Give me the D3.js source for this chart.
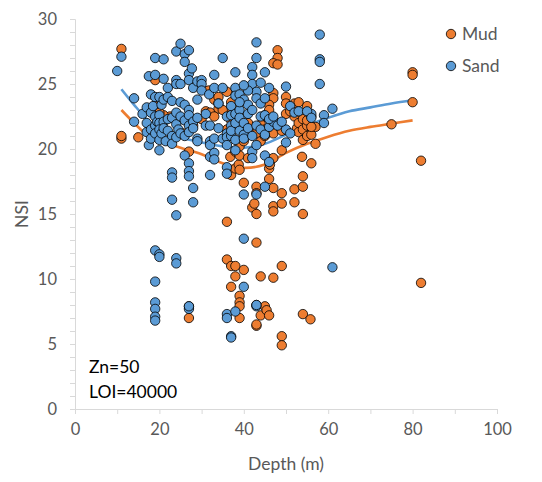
<!DOCTYPE html>
<html><head><meta charset="utf-8">
<script src="https://cdn.jsdelivr.net/npm/d3@7"></script>
<style>body{margin:0;background:#fff}svg{display:block}</style>
</head><body>
<svg id="c" width="542" height="482"></svg>
<script>
const xTicks = [0,20,40,60,80,100];
const yTicks = [0,5,10,15,20,25,30];

const mud = [[11,27.7],[11,20.8],[11,21],[15,20.9],[19,25.3],[19,23.3],[22,22.4],[22.5,22.5],[25.7,21.2],[27,19.8],[21,22.6],[24,22.3],[31,22.9],[31.7,24.5],[33,23.8],[34,24],[34,23.1],[34,23.5],[32,22.8],[37,23.6],[37,23],[36.8,19.4],[37,18],[38,18.5],[38.8,18.8],[39,18.4],[38,19.8],[39,20.2],[39,19.5],[40,17.4],[40,20.6],[41,19.3],[42,21.7],[43,21.2],[43,17.1],[43,16.6],[42,15.5],[42.5,15.8],[43,15],[44,21.9],[45,22.6],[45,21.5],[46,17.7],[46,18.5],[46.2,18.8],[47,17],[47,15.6],[47,15.2],[47,19.3],[48,27.6],[48,27],[47,26.6],[48,26.5],[47,24.3],[47,23.9],[46,23.4],[46,23],[46,22.3],[47,21.8],[47,21.2],[48,22.0],[49,19.9],[49,16.6],[49,15.8],[50,24],[50,23.5],[49,21.4],[52,16.9],[52,15.9],[52,23.5],[52,22.5],[52.6,21.6],[53,22.0],[53,21.3],[53.8,19.4],[54,17.9],[54,17.1],[54,15],[54,20.7],[54,22.3],[54,21.5],[55,23.3],[55,21.8],[55,22.2],[55,21.0],[56,21.1],[56,18.9],[56,22.5],[57,21.7],[57,20.4],[75,21.9],[80,25.9],[80,25.7],[80,23.6],[82,19.1],[82,9.7],[36,14.4],[36,11.5],[37,11],[38,11],[38,10.2],[40,10.7],[37,9.4],[39,8.7],[39,8.2],[39,7.9],[39,7],[43,12.8],[44,10.2],[47,10.1],[49,11],[43,8],[43,6.4],[43,6.5],[44,7.2],[45,7.9],[45.4,7.6],[46,7.2],[49,5.6],[49,4.9],[54,7.3],[55.8,6.9],[27,7],[27,7.9],[20,22.8],[28,21.8],[35,23],[36,24.4],[44,20.6],[45,21.0],[30,22.3],[33,22.5],[37,22.2],[36,21.5],[41,22.0],[50,22.7],[51,22.9],[53,23.6],[56,21.7]];

const sand = [[10,26],[11,27.1],[14,23.9],[14,22.1],[16,22.7],[17,23.2],[17,22.0],[17,21.3],[17.5,20.3],[17.5,25.6],[18,24.2],[18,22.8],[18,21.5],[18,20.8],[18.5,23.3],[19,25.7],[19,27],[19,24],[19,22.5],[19,21.8],[19,21.2],[19.5,22.1],[20,24.0],[20,22.6],[20,22],[20,21.5],[20,20.7],[20,19.9],[20.5,23.4],[20.5,21.2],[21,26.9],[21,25.4],[21,23.8],[21,22.1],[21,21.6],[21.5,20.6],[22,24.7],[22,24],[22,22.3],[22,21.4],[23,23.7],[23,22.4],[23,21.0],[23,20.4],[23,18.2],[23,17.8],[23,16.1],[24,27.5],[24,25.3],[24,25],[24,22.8],[24,21.9],[24,20.9],[24,14.9],[24.5,21.5],[25,28.1],[25,23.6],[25,22.5],[25,21.2],[25,25.0],[26,27.3],[26,26.7],[26,23.4],[26,22.2],[26,21.0],[26,19.5],[27,27.6],[27,25.8],[27,25.3],[27,23.0],[27,22.6],[27,21.8],[27,21.3],[27,18.9],[27,18.3],[27,17.9],[27.7,26.2],[28,24.7],[28,22.1],[28,21.6],[28,17],[28,15.9],[29,25.2],[29,23.8],[29,22.4],[29,20.8],[29,20.6],[30,25.3],[30,25.0],[30,24.5],[31,22.7],[31,21.8],[31.8,24.2],[32,21.8],[32,20.6],[32,20.3],[32,19.4],[32,18],[33,25.7],[33,24.7],[33,20.8],[33,19.7],[33,19.2],[34,21.6],[34,23.5],[35,27],[35,24.7],[35,20.8],[36,22.5],[36,21.2],[36,20.9],[36,20.3],[36,18.6],[36,18.1],[37,23.3],[37,22.6],[37,21.8],[37,21.0],[37,21.4],[38,25.9],[38,24.7],[38,24.1],[38,22.7],[38,22.0],[38,20.7],[38,19.9],[39,24.2],[39,23.0],[39,21.4],[39,22.4],[40,23.8],[40,22.0],[40,21.1],[40,20.8],[41,23.4],[41,21.6],[41,22.7],[42,26.3],[42,25.7],[42,25.0],[42,23.0],[42,21.0],[42,19.8],[42,19.3],[43,28.2],[43,27.0],[43,24.4],[43,23.9],[43,21.8],[43,20.3],[44,25.1],[44,22.5],[44,21.5],[45,25.9],[45,22.6],[45,21.1],[45,19.5],[46,24.7],[46,21.7],[46,19.0],[47,22.1],[48,21.8],[50,24.8],[50,21.5],[50,20.5],[51,23.3],[52,22.8],[53,22.9],[56,22.7],[58,28.8],[58,26.9],[58,26.7],[58,25],[59,22.6],[59,22],[61,23.1],[40,16.5],[43,16.5],[45,17.1],[40,13.1],[40,9.4],[19,12.2],[20,11.9],[20,11.7],[24,11.6],[24,11.2],[19,9.8],[19,8.2],[19,7.7],[19,7.1],[19,6.8],[27,7.7],[27,7.9],[36,7.3],[36,7],[38,7.5],[37,5.6],[37,5.5],[43,7.9],[43,8.0],[61,10.9],[44,23.5],[45,23.9],[46,22.3],[47,22.5],[49,22.1],[41,24.5],[40,24.9],[39,23.6],[55,22.9],[56,22.4],[51,21.2]];

const fitDepth = [11,14,17,20,25,30,35,40,45,50,55,60,65,70,75,80];
const sandFit = [24.6,23.4,22.3,21.5,20.9,20.5,20.2,20.1,20.4,21.1,21.8,22.4,22.9,23.2,23.5,23.75];
const mudFit  = [23.0,22.0,21.1,20.6,20.1,19.6,18.9,18.55,18.8,19.7,20.4,20.95,21.4,21.7,21.95,22.2];

const series = [
  {name:"Mud", color:"#ED7D31", pts:mud, fit:mudFit},
  {name:"Sand", color:"#5B9BD5", pts:sand, fit:sandFit}
];

const svg = d3.select("#c");
const font = "Lato, 'Open Sans', sans-serif";
const x = d3.scaleLinear().domain([0,100]).range([75,497]);
const y = d3.scaleLinear().domain([0,30]).range([409,19]);
const axisCol = "#d9d9d9", txtCol = "#595959";
const R = 4.7;

const xa = svg.append("g").attr("transform","translate(0,409)")
  .call(d3.axisBottom(x).tickValues(d3.range(0,101,10)).tickSize(5).tickFormat(d => xTicks.includes(d) ? d : ""));
const ya = svg.append("g").attr("transform","translate(75,0)")
  .call(d3.axisLeft(y).tickValues(d3.range(0,31,1)).tickSize(5).tickFormat(d => yTicks.includes(d) ? d : ""));
[xa,ya].forEach(g=>{
  g.select(".domain").attr("stroke",axisCol).attr("stroke-width",1);
  g.selectAll(".tick line").attr("stroke",axisCol);
  g.selectAll("text").attr("fill",txtCol).style("font-family",font).style("font-size","16.5px");
});
xa.selectAll("text").attr("y",14);
ya.selectAll("text").attr("x",-18);

// trend lines beneath markers
series.forEach(s=>{
  svg.append("path").datum(fitDepth.map((d,i)=>[d,s.fit[i]]))
    .attr("fill","none").attr("stroke",s.color).attr("stroke-width",2.6)
    .attr("d",d3.line().x(d=>x(d[0])).y(d=>y(d[1])).curve(d3.curveCatmullRom));
});
series.forEach(s=>{
  svg.append("g").selectAll("circle").data(s.pts).join("circle")
    .attr("cx",d=>x(d[0])).attr("cy",d=>y(d[1])).attr("r",R)
    .attr("fill",s.color).attr("stroke","#000").attr("stroke-width",0.8);
});

svg.append("text").attr("x",286).attr("y",470).attr("text-anchor","middle")
  .attr("fill",txtCol).style("font-family",font).style("font-size","17.5px").text("Depth (m)");
svg.append("text").attr("transform","translate(28,214) rotate(-90)").attr("text-anchor","middle")
  .attr("fill",txtCol).style("font-family",font).style("font-size","17.5px").text("NSI");

series.forEach((s,i)=>{
  const ly = 34 + i*32;
  svg.append("circle").attr("cx",451).attr("cy",ly).attr("r",R)
    .attr("fill",s.color).attr("stroke","#000").attr("stroke-width",0.8);
  svg.append("text").attr("x",462).attr("y",ly).attr("dy","0.35em")
    .attr("fill",txtCol).style("font-family",font).style("font-size","17.5px").text(s.name);
});

["Zn=50","LOI=40000"].forEach((t,i)=>{
  svg.append("text").attr("x",89).attr("y",373+i*25)
    .attr("fill","#000").style("font-family",font).style("font-size","17.5px").text(t);
});
</script>
</body></html>
